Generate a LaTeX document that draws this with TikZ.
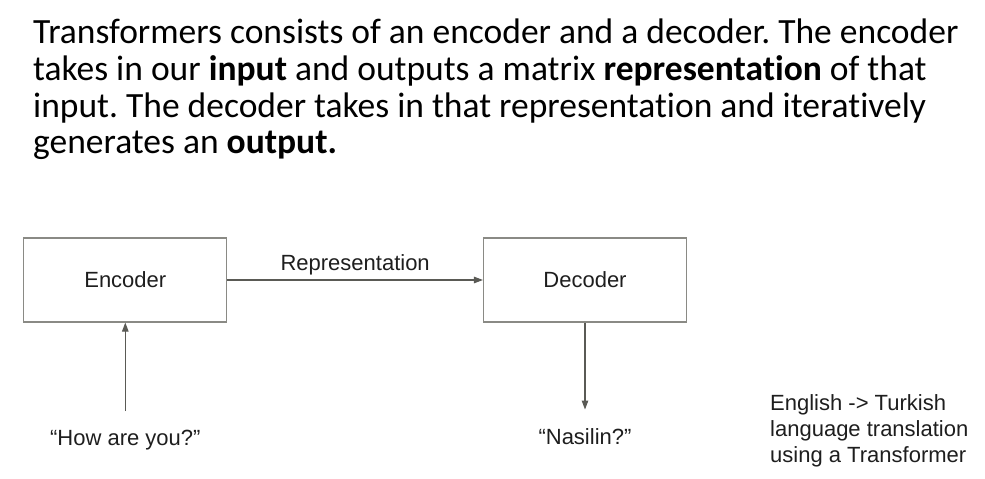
\documentclass[tikz,border=0pt]{standalone}
\usepackage{fontspec}
\setmainfont{Carlito}[Ligatures=NoCommon]
\newfontfamily\diagfont{Liberation Sans}
\usepackage{xcolor}
\usepackage{tikz}
\usetikzlibrary{shapes.geometric, arrows, arrows.meta}
\definecolor{boxgray}{HTML}{8A8A85}
\definecolor{linegray}{HTML}{5A5A55}
\definecolor{inkgray}{HTML}{1E1E1E}
\tikzstyle{arrow} = [draw=linegray,line width=1.1pt,-{Triangle[length=9pt,width=6.5pt]}]
\tikzstyle{block} = [draw=boxgray,line width=1.1pt,minimum width=203pt,minimum height=84pt,
	font=\diagfont\fontsize{22}{26}\selectfont,text=inkgray]
\tikzstyle{label} = [font=\diagfont\fontsize{22}{26}\selectfont,text=inkgray]
\frenchspacing

\begin{document}
\begin{tikzpicture}[x=1pt,y=-1pt]
	\useasboundingbox (0,0) rectangle (985,479);
	
	% Heading text:
	\node [anchor=north west,inner sep=0pt,align=left,font=\fontsize{35.5}{36.7}\selectfont]
	(head) at (33,19) {Transformers consists of an encoder and a decoder. The encoder\\
		takes in our \textbf{input} and outputs a matrix \textbf{representation} of that\\
		input. The decoder takes in that representation and iteratively\\
		generates an \textbf{output.}};
	
	% Boxes:
	\node [block] (enc) at (125.3,280) {Encoder};
	\node [block] (dec) at (585,280) {Decoder};
	
	% Input and output:
	\node [label,anchor=base] (inp) at (125.3,445) {“How are you?”};
	\node [label,anchor=base] (outp) at (585,444) {“Nasilin?”};
	
	\node [label,anchor=north west,align=left,inner sep=0pt,
	font=\diagfont\fontsize{22}{26.3}\selectfont] (note) at (770,394)
	{English -> Turkish\\ language translation\\ using a Transformer};
	
	% Arrows:
	\draw [arrow] (enc) -- node [label,above,inner sep=4.4pt] {Representation} (dec);
	\draw [arrow,shorten <=15pt] (inp) -- (enc);
	\draw [arrow,shorten >=15pt] (dec) -- (outp);
	
\end{tikzpicture}
\end{document}
